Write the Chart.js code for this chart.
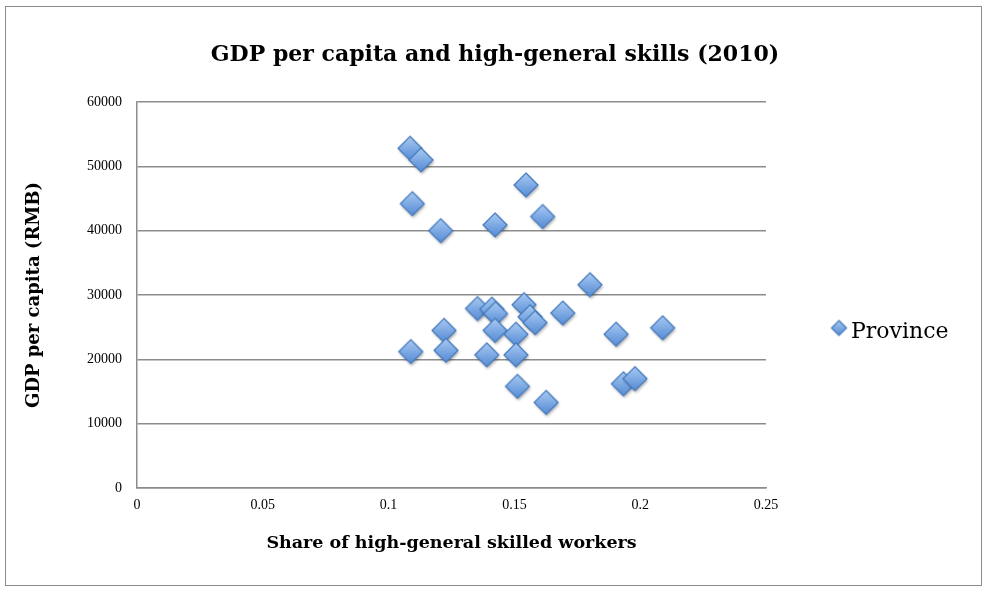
<!DOCTYPE html>
<html>
<head>
<meta charset="utf-8">
<title>GDP per capita and high-general skills (2010)</title>
<script src="https://cdn.jsdelivr.net/npm/chart.js@4.4.1/dist/chart.umd.min.js"></script>
<style>
  html, body { margin: 0; padding: 0; background: #ffffff; }
  #wrap { width: 986px; height: 591px; position: relative; }
</style>
</head>
<body>
<div id="wrap"><canvas id="scatterChart" width="986" height="591"></canvas></div>
<script>
// share of high-general skilled workers per province
const skillShare = [
    0.1085, 0.1129, 0.1094, 0.1207, 0.1423, 0.1546, 0.1612, 0.1800,
    0.1088, 0.1220, 0.1228, 0.1353, 0.1410, 0.1425, 0.1423, 0.1390,
    0.1538, 0.1562, 0.1582, 0.1506, 0.1506, 0.1512, 0.1626, 0.1692,
    0.1904, 0.2089, 0.1933, 0.1979
];
// GDP per capita (RMB), same order
const gdpPerCapita = [
    52800, 51000, 44200, 40000, 40900, 47100, 42200, 31600,
    21200, 24500, 21400, 27900, 27800, 27100, 24500, 20700,
    28500, 26600, 25700, 23900, 20700, 15800, 13300, 27200,
    23900, 24900, 16200, 17000
];
const xTicks = [0, 0.05, 0.1, 0.15, 0.2, 0.25];
const yTicks = [0, 10000, 20000, 30000, 40000, 50000, 60000];

const seriesName = 'Province';
const chartTitle = 'GDP per capita and high-general skills (2010)';
const serif = "'DejaVu Serif', 'Liberation Serif', serif";
const tickFont = "'Liberation Serif', serif";

// bevelled blue diamond used for the markers and the legend key
function makeDiamond(half, withShadow) {
    const size = Math.ceil(half * 2 + 8);
    const c = document.createElement('canvas');
    c.width = size;
    c.height = size;
    const ctx = c.getContext('2d');
    const m = size / 2;
    if (withShadow) {
        ctx.shadowColor = 'rgba(0,0,0,0.35)';
        ctx.shadowBlur = 3;
        ctx.shadowOffsetX = 1;
        ctx.shadowOffsetY = 2;
    }
    const grad = ctx.createLinearGradient(0, m - half, 0, m + half);
    grad.addColorStop(0, '#a9caf2');
    grad.addColorStop(0.5, '#7eaae4');
    grad.addColorStop(1, '#568bd4');
    ctx.beginPath();
    ctx.moveTo(m, m - half);
    ctx.lineTo(m + half, m);
    ctx.lineTo(m, m + half);
    ctx.lineTo(m - half, m);
    ctx.closePath();
    ctx.fillStyle = grad;
    ctx.fill();
    ctx.shadowColor = 'transparent';
    ctx.lineWidth = 1.2;
    ctx.strokeStyle = '#4278bb';
    ctx.stroke();
    return c;
}

const pointImg = makeDiamond(12, true);
const legendImg = makeDiamond(7.5, false);

// white page, grey frame, centred title and the legend on the right
const framePlugin = {
    id: 'frame',
    beforeDraw(chart) {
        const ctx = chart.ctx;
        ctx.save();
        ctx.fillStyle = '#ffffff';
        ctx.fillRect(0, 0, chart.width, chart.height);
        ctx.strokeStyle = '#8c8c8c';
        ctx.lineWidth = 1;
        ctx.strokeRect(5.5, 6.5, 976, 579);
        ctx.restore();
    },
    afterDraw(chart) {
        const ctx = chart.ctx;
        ctx.save();
        ctx.fillStyle = '#000000';
        ctx.textBaseline = 'middle';
        ctx.textAlign = 'center';
        ctx.font = 'bold 22px ' + serif;
        ctx.fillText(chartTitle, 495, 55);

        ctx.drawImage(legendImg, 839 - legendImg.width / 2, 328 - legendImg.height / 2);
        ctx.textAlign = 'left';
        ctx.font = '22px ' + serif;
        ctx.fillText(seriesName, 851, 332);
        ctx.restore();
    }
};

new Chart(document.getElementById('scatterChart'), {
    type: 'scatter',
    data: {
        datasets: [{
            label: seriesName,
            data: skillShare.map((x, i) => ({ x: x, y: gdpPerCapita[i] })),
            pointStyle: pointImg,
            pointRadius: 12,
            pointHoverRadius: 12
        }]
    },
    options: {
        responsive: false,
        animation: false,
        layout: { padding: { left: 0, right: 220, top: 102, bottom: 37 } },
        plugins: {
            legend: { display: false },
            tooltip: { enabled: false },
            title: { display: false }
        },
        scales: {
            x: {
                type: 'linear',
                min: 0,
                max: 0.25,
                afterBuildTicks(scale) {
                    scale.ticks = xTicks.map(v => ({ value: v }));
                },
                afterFit(scale) { scale.height = 66; },
                grid: { display: false, drawTicks: false },
                border: { display: true, color: '#8c8c8c', width: 1.5 },
                ticks: {
                    color: '#000000',
                    font: { family: tickFont, size: 14 },
                    padding: 9,
                    maxRotation: 0,
                    callback: v => String(v)
                },
                title: {
                    display: true,
                    text: 'Share of high-general skilled workers',
                    color: '#000000',
                    font: { family: serif, size: 17.5, weight: 'bold' },
                    padding: { top: 0, bottom: 0 }
                }
            },
            y: {
                type: 'linear',
                min: 0,
                max: 60000,
                afterBuildTicks(scale) {
                    scale.ticks = yTicks.map(v => ({ value: v }));
                },
                afterFit(scale) { scale.width = 137; },
                grid: { color: '#8c8c8c', lineWidth: 1.5, drawTicks: false },
                border: { display: true, color: '#8c8c8c', width: 1.5 },
                ticks: {
                    color: '#000000',
                    font: { family: tickFont, size: 14 },
                    padding: 15,
                    callback: v => String(v)
                },
                title: {
                    display: true,
                    text: 'GDP per capita (RMB)',
                    color: '#000000',
                    font: { family: serif, size: 18, weight: 'bold' },
                    padding: { top: 24, bottom: 0 }
                }
            }
        }
    },
    plugins: [framePlugin]
});
</script>
</body>
</html>
